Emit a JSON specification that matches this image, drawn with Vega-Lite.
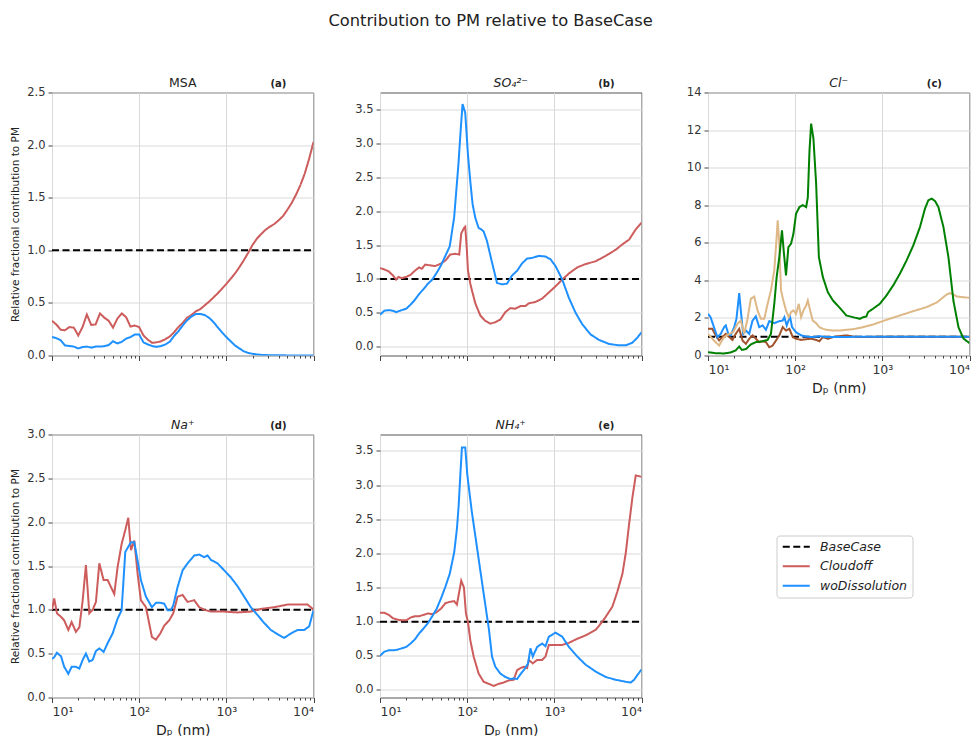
{
"$schema":"https://vega.github.io/schema/vega-lite/v6.json",
"background":"white",
"padding":{"left":10,"top":12.5,"right":5,"bottom":5},
"title":{"text":"Contribution to PM relative to BaseCase","fontSize":16.3,"anchor":"middle","offset":47,"color":"#222","fontWeight":"normal"},
"config":{
 "font":"DejaVu Sans",
 "view":{"stroke":"#555","strokeWidth":1},
 "axis":{"labelFontSize":11.5,"labelColor":"#333","tickColor":"#444","tickSize":4,"domain":false,"gridColor":"#d9d9d9","titleFontWeight":"normal","titleColor":"#222","labelPadding":3,"labelOverlap":false},
 "axisY":{"titleFontSize":10.5,"titlePadding":6},
 "axisX":{"titleFontSize":14,"titlePadding":5},
 "title":{"fontSize":12.5,"fontWeight":"normal","color":"#222"},
 "legend":{"symbolType":"M-1,0H4.4","symbolSize":100,"symbolStrokeWidth":2,"labelFontStyle":"italic","labelFontSize":12.5,"labelColor":"#222","labelOffset":26,"rowPadding":6.5,"padding":5,"strokeColor":"#cccccc","cornerRadius":3,"fillColor":"white"}
},
"data":{"values":[
{"p":"a","s":"BaseCase","x":10,"y":1},{"p":"a","s":"BaseCase","x":10000,"y":1},
{"p":"b","s":"BaseCase","x":10,"y":1},{"p":"b","s":"BaseCase","x":10000,"y":1},
{"p":"c","s":"BaseCase","x":10,"y":1},{"p":"c","s":"BaseCase","x":10000,"y":1},
{"p":"d","s":"BaseCase","x":10,"y":1},{"p":"d","s":"BaseCase","x":10000,"y":1},
{"p":"e","s":"BaseCase","x":10,"y":1},{"p":"e","s":"BaseCase","x":10000,"y":1},
{"p":"a","s":"Cloudoff","x":10,"y":0.33},{"p":"a","s":"Cloudoff","x":11.2,"y":0.295},{"p":"a","s":"Cloudoff","x":12.6,"y":0.245},{"p":"a","s":"Cloudoff","x":14.1,"y":0.24},{"p":"a","s":"Cloudoff","x":15.8,"y":0.27},{"p":"a","s":"Cloudoff","x":17.8,"y":0.265},{"p":"a","s":"Cloudoff","x":20,"y":0.19},{"p":"a","s":"Cloudoff","x":22.4,"y":0.27},{"p":"a","s":"Cloudoff","x":25.1,"y":0.39},{"p":"a","s":"Cloudoff","x":28.2,"y":0.29},{"p":"a","s":"Cloudoff","x":31.6,"y":0.295},{"p":"a","s":"Cloudoff","x":35.5,"y":0.4},{"p":"a","s":"Cloudoff","x":39.8,"y":0.36},{"p":"a","s":"Cloudoff","x":44.7,"y":0.33},{"p":"a","s":"Cloudoff","x":50.1,"y":0.265},{"p":"a","s":"Cloudoff","x":56.2,"y":0.35},{"p":"a","s":"Cloudoff","x":63.1,"y":0.4},{"p":"a","s":"Cloudoff","x":70.8,"y":0.365},{"p":"a","s":"Cloudoff","x":79.4,"y":0.275},{"p":"a","s":"Cloudoff","x":89.1,"y":0.285},{"p":"a","s":"Cloudoff","x":100,"y":0.27},{"p":"a","s":"Cloudoff","x":112,"y":0.19},{"p":"a","s":"Cloudoff","x":126,"y":0.15},{"p":"a","s":"Cloudoff","x":141,"y":0.12},{"p":"a","s":"Cloudoff","x":158,"y":0.125},{"p":"a","s":"Cloudoff","x":178,"y":0.135},{"p":"a","s":"Cloudoff","x":200,"y":0.155},{"p":"a","s":"Cloudoff","x":224,"y":0.18},{"p":"a","s":"Cloudoff","x":251,"y":0.22},{"p":"a","s":"Cloudoff","x":282,"y":0.27},{"p":"a","s":"Cloudoff","x":316,"y":0.31},{"p":"a","s":"Cloudoff","x":355,"y":0.36},{"p":"a","s":"Cloudoff","x":398,"y":0.385},{"p":"a","s":"Cloudoff","x":447,"y":0.42},{"p":"a","s":"Cloudoff","x":501,"y":0.44},{"p":"a","s":"Cloudoff","x":562,"y":0.475},{"p":"a","s":"Cloudoff","x":631,"y":0.51},{"p":"a","s":"Cloudoff","x":708,"y":0.55},{"p":"a","s":"Cloudoff","x":794,"y":0.59},{"p":"a","s":"Cloudoff","x":891,"y":0.635},{"p":"a","s":"Cloudoff","x":1000,"y":0.68},{"p":"a","s":"Cloudoff","x":1122,"y":0.73},{"p":"a","s":"Cloudoff","x":1259,"y":0.78},{"p":"a","s":"Cloudoff","x":1413,"y":0.84},{"p":"a","s":"Cloudoff","x":1585,"y":0.905},{"p":"a","s":"Cloudoff","x":1778,"y":0.975},{"p":"a","s":"Cloudoff","x":1995,"y":1.05},{"p":"a","s":"Cloudoff","x":2239,"y":1.11},{"p":"a","s":"Cloudoff","x":2512,"y":1.155},{"p":"a","s":"Cloudoff","x":2818,"y":1.195},{"p":"a","s":"Cloudoff","x":3162,"y":1.225},{"p":"a","s":"Cloudoff","x":3548,"y":1.25},{"p":"a","s":"Cloudoff","x":3981,"y":1.285},{"p":"a","s":"Cloudoff","x":4467,"y":1.325},{"p":"a","s":"Cloudoff","x":5012,"y":1.385},{"p":"a","s":"Cloudoff","x":5623,"y":1.45},{"p":"a","s":"Cloudoff","x":6310,"y":1.53},{"p":"a","s":"Cloudoff","x":7079,"y":1.62},{"p":"a","s":"Cloudoff","x":7943,"y":1.73},{"p":"a","s":"Cloudoff","x":8913,"y":1.87},{"p":"a","s":"Cloudoff","x":10000,"y":2.03},
{"p":"a","s":"woDissolution","x":10,"y":0.175},{"p":"a","s":"woDissolution","x":11.2,"y":0.165},{"p":"a","s":"woDissolution","x":12.6,"y":0.145},{"p":"a","s":"woDissolution","x":14.1,"y":0.095},{"p":"a","s":"woDissolution","x":15.8,"y":0.09},{"p":"a","s":"woDissolution","x":17.8,"y":0.085},{"p":"a","s":"woDissolution","x":20,"y":0.067},{"p":"a","s":"woDissolution","x":22.4,"y":0.08},{"p":"a","s":"woDissolution","x":25.1,"y":0.085},{"p":"a","s":"woDissolution","x":28.2,"y":0.075},{"p":"a","s":"woDissolution","x":31.6,"y":0.085},{"p":"a","s":"woDissolution","x":35.5,"y":0.085},{"p":"a","s":"woDissolution","x":39.8,"y":0.088},{"p":"a","s":"woDissolution","x":44.7,"y":0.1},{"p":"a","s":"woDissolution","x":50.1,"y":0.135},{"p":"a","s":"woDissolution","x":56.2,"y":0.115},{"p":"a","s":"woDissolution","x":63.1,"y":0.13},{"p":"a","s":"woDissolution","x":70.8,"y":0.16},{"p":"a","s":"woDissolution","x":79.4,"y":0.175},{"p":"a","s":"woDissolution","x":89.1,"y":0.2},{"p":"a","s":"woDissolution","x":100,"y":0.2},{"p":"a","s":"woDissolution","x":112,"y":0.125},{"p":"a","s":"woDissolution","x":126,"y":0.105},{"p":"a","s":"woDissolution","x":141,"y":0.09},{"p":"a","s":"woDissolution","x":158,"y":0.082},{"p":"a","s":"woDissolution","x":178,"y":0.09},{"p":"a","s":"woDissolution","x":200,"y":0.105},{"p":"a","s":"woDissolution","x":224,"y":0.13},{"p":"a","s":"woDissolution","x":251,"y":0.185},{"p":"a","s":"woDissolution","x":282,"y":0.23},{"p":"a","s":"woDissolution","x":316,"y":0.285},{"p":"a","s":"woDissolution","x":355,"y":0.335},{"p":"a","s":"woDissolution","x":398,"y":0.37},{"p":"a","s":"woDissolution","x":447,"y":0.395},{"p":"a","s":"woDissolution","x":501,"y":0.395},{"p":"a","s":"woDissolution","x":562,"y":0.385},{"p":"a","s":"woDissolution","x":631,"y":0.36},{"p":"a","s":"woDissolution","x":708,"y":0.32},{"p":"a","s":"woDissolution","x":794,"y":0.27},{"p":"a","s":"woDissolution","x":891,"y":0.22},{"p":"a","s":"woDissolution","x":1000,"y":0.175},{"p":"a","s":"woDissolution","x":1122,"y":0.135},{"p":"a","s":"woDissolution","x":1259,"y":0.095},{"p":"a","s":"woDissolution","x":1413,"y":0.067},{"p":"a","s":"woDissolution","x":1585,"y":0.04},{"p":"a","s":"woDissolution","x":1778,"y":0.025},{"p":"a","s":"woDissolution","x":1995,"y":0.016},{"p":"a","s":"woDissolution","x":2239,"y":0.01},{"p":"a","s":"woDissolution","x":2512,"y":0.006},{"p":"a","s":"woDissolution","x":3162,"y":0.003},{"p":"a","s":"woDissolution","x":5012,"y":0.001},{"p":"a","s":"woDissolution","x":10000,"y":0},
{"p":"b","s":"Cloudoff","x":10,"y":1.16},{"p":"b","s":"Cloudoff","x":11.2,"y":1.14},{"p":"b","s":"Cloudoff","x":12.6,"y":1.11},{"p":"b","s":"Cloudoff","x":14.1,"y":1.05},{"p":"b","s":"Cloudoff","x":15.3,"y":0.99},{"p":"b","s":"Cloudoff","x":16.3,"y":1.03},{"p":"b","s":"Cloudoff","x":17.8,"y":1.01},{"p":"b","s":"Cloudoff","x":20,"y":1.03},{"p":"b","s":"Cloudoff","x":22.4,"y":1.06},{"p":"b","s":"Cloudoff","x":25.1,"y":1.12},{"p":"b","s":"Cloudoff","x":28.1,"y":1.17},{"p":"b","s":"Cloudoff","x":30.2,"y":1.15},{"p":"b","s":"Cloudoff","x":33,"y":1.21},{"p":"b","s":"Cloudoff","x":37.6,"y":1.2},{"p":"b","s":"Cloudoff","x":43,"y":1.19},{"p":"b","s":"Cloudoff","x":49,"y":1.22},{"p":"b","s":"Cloudoff","x":56.2,"y":1.27},{"p":"b","s":"Cloudoff","x":64,"y":1.36},{"p":"b","s":"Cloudoff","x":73,"y":1.37},{"p":"b","s":"Cloudoff","x":81.1,"y":1.36},{"p":"b","s":"Cloudoff","x":85.5,"y":1.67},{"p":"b","s":"Cloudoff","x":91.8,"y":1.75},{"p":"b","s":"Cloudoff","x":95,"y":1.77},{"p":"b","s":"Cloudoff","x":99,"y":1.45},{"p":"b","s":"Cloudoff","x":102,"y":1.13},{"p":"b","s":"Cloudoff","x":108.6,"y":0.93},{"p":"b","s":"Cloudoff","x":113.5,"y":0.83},{"p":"b","s":"Cloudoff","x":124,"y":0.64},{"p":"b","s":"Cloudoff","x":141.5,"y":0.46},{"p":"b","s":"Cloudoff","x":161.5,"y":0.38},{"p":"b","s":"Cloudoff","x":184.5,"y":0.34},{"p":"b","s":"Cloudoff","x":210,"y":0.36},{"p":"b","s":"Cloudoff","x":240,"y":0.4},{"p":"b","s":"Cloudoff","x":274,"y":0.51},{"p":"b","s":"Cloudoff","x":313,"y":0.57},{"p":"b","s":"Cloudoff","x":357,"y":0.56},{"p":"b","s":"Cloudoff","x":408,"y":0.6},{"p":"b","s":"Cloudoff","x":466,"y":0.6},{"p":"b","s":"Cloudoff","x":509,"y":0.64},{"p":"b","s":"Cloudoff","x":608,"y":0.66},{"p":"b","s":"Cloudoff","x":725,"y":0.71},{"p":"b","s":"Cloudoff","x":865,"y":0.8},{"p":"b","s":"Cloudoff","x":1032,"y":0.89},{"p":"b","s":"Cloudoff","x":1233,"y":0.99},{"p":"b","s":"Cloudoff","x":1469,"y":1.08},{"p":"b","s":"Cloudoff","x":1833,"y":1.17},{"p":"b","s":"Cloudoff","x":2286,"y":1.22},{"p":"b","s":"Cloudoff","x":2979,"y":1.26},{"p":"b","s":"Cloudoff","x":3881,"y":1.34},{"p":"b","s":"Cloudoff","x":5058,"y":1.43},{"p":"b","s":"Cloudoff","x":6040,"y":1.51},{"p":"b","s":"Cloudoff","x":7211,"y":1.58},{"p":"b","s":"Cloudoff","x":8590,"y":1.73},{"p":"b","s":"Cloudoff","x":10000,"y":1.83},
{"p":"b","s":"woDissolution","x":10,"y":0.47},{"p":"b","s":"woDissolution","x":11.2,"y":0.53},{"p":"b","s":"woDissolution","x":12.6,"y":0.54},{"p":"b","s":"woDissolution","x":14.1,"y":0.53},{"p":"b","s":"woDissolution","x":15.3,"y":0.51},{"p":"b","s":"woDissolution","x":17.8,"y":0.54},{"p":"b","s":"woDissolution","x":20,"y":0.56},{"p":"b","s":"woDissolution","x":22.4,"y":0.62},{"p":"b","s":"woDissolution","x":25.1,"y":0.69},{"p":"b","s":"woDissolution","x":28.2,"y":0.78},{"p":"b","s":"woDissolution","x":31.6,"y":0.85},{"p":"b","s":"woDissolution","x":35.5,"y":0.93},{"p":"b","s":"woDissolution","x":39.8,"y":0.99},{"p":"b","s":"woDissolution","x":44.7,"y":1.09},{"p":"b","s":"woDissolution","x":50.1,"y":1.2},{"p":"b","s":"woDissolution","x":56.2,"y":1.34},{"p":"b","s":"woDissolution","x":63.1,"y":1.48},{"p":"b","s":"woDissolution","x":70.8,"y":1.9},{"p":"b","s":"woDissolution","x":79.4,"y":2.69},{"p":"b","s":"woDissolution","x":84.1,"y":3.18},{"p":"b","s":"woDissolution","x":88.5,"y":3.58},{"p":"b","s":"woDissolution","x":95,"y":3.45},{"p":"b","s":"woDissolution","x":102,"y":2.84},{"p":"b","s":"woDissolution","x":108.6,"y":2.44},{"p":"b","s":"woDissolution","x":115.5,"y":2.1},{"p":"b","s":"woDissolution","x":124,"y":1.9},{"p":"b","s":"woDissolution","x":135.5,"y":1.75},{"p":"b","s":"woDissolution","x":145,"y":1.73},{"p":"b","s":"woDissolution","x":154.5,"y":1.7},{"p":"b","s":"woDissolution","x":168.7,"y":1.56},{"p":"b","s":"woDissolution","x":193,"y":1.24},{"p":"b","s":"woDissolution","x":220,"y":0.94},{"p":"b","s":"woDissolution","x":251,"y":0.92},{"p":"b","s":"woDissolution","x":287,"y":0.93},{"p":"b","s":"woDissolution","x":327,"y":1.05},{"p":"b","s":"woDissolution","x":374,"y":1.12},{"p":"b","s":"woDissolution","x":427,"y":1.23},{"p":"b","s":"woDissolution","x":487,"y":1.3},{"p":"b","s":"woDissolution","x":556,"y":1.31},{"p":"b","s":"woDissolution","x":664,"y":1.34},{"p":"b","s":"woDissolution","x":794,"y":1.33},{"p":"b","s":"woDissolution","x":903,"y":1.29},{"p":"b","s":"woDissolution","x":1032,"y":1.19},{"p":"b","s":"woDissolution","x":1233,"y":0.99},{"p":"b","s":"woDissolution","x":1469,"y":0.72},{"p":"b","s":"woDissolution","x":1753,"y":0.5},{"p":"b","s":"woDissolution","x":2093,"y":0.33},{"p":"b","s":"woDissolution","x":2612,"y":0.18},{"p":"b","s":"woDissolution","x":3252,"y":0.1},{"p":"b","s":"woDissolution","x":4244,"y":0.04},{"p":"b","s":"woDissolution","x":5533,"y":0.02},{"p":"b","s":"woDissolution","x":6592,"y":0.02},{"p":"b","s":"woDissolution","x":7870,"y":0.06},{"p":"b","s":"woDissolution","x":8913,"y":0.13},{"p":"b","s":"woDissolution","x":10000,"y":0.21},
{"p":"c","s":"ClBrown","x":10,"y":1.42},{"p":"c","s":"ClBrown","x":11.2,"y":1.42},{"p":"c","s":"ClBrown","x":12.25,"y":1.07},{"p":"c","s":"ClBrown","x":13.4,"y":0.8},{"p":"c","s":"ClBrown","x":14.6,"y":0.98},{"p":"c","s":"ClBrown","x":16,"y":1.15},{"p":"c","s":"ClBrown","x":17.5,"y":0.98},{"p":"c","s":"ClBrown","x":19.1,"y":0.83},{"p":"c","s":"ClBrown","x":20.8,"y":1.15},{"p":"c","s":"ClBrown","x":22.8,"y":1.42},{"p":"c","s":"ClBrown","x":24.9,"y":0.8},{"p":"c","s":"ClBrown","x":27.2,"y":0.62},{"p":"c","s":"ClBrown","x":29.7,"y":0.89},{"p":"c","s":"ClBrown","x":32.4,"y":1.07},{"p":"c","s":"ClBrown","x":35.4,"y":0.89},{"p":"c","s":"ClBrown","x":38.7,"y":0.71},{"p":"c","s":"ClBrown","x":42.3,"y":0.76},{"p":"c","s":"ClBrown","x":46.2,"y":0.71},{"p":"c","s":"ClBrown","x":50.5,"y":0.44},{"p":"c","s":"ClBrown","x":55.1,"y":0.53},{"p":"c","s":"ClBrown","x":60.3,"y":0.8},{"p":"c","s":"ClBrown","x":65.8,"y":1.07},{"p":"c","s":"ClBrown","x":71.9,"y":1.51},{"p":"c","s":"ClBrown","x":78.5,"y":1.33},{"p":"c","s":"ClBrown","x":85.8,"y":1.42},{"p":"c","s":"ClBrown","x":93.8,"y":0.98},{"p":"c","s":"ClBrown","x":102.4,"y":0.89},{"p":"c","s":"ClBrown","x":117,"y":0.83},{"p":"c","s":"ClBrown","x":133.6,"y":0.87},{"p":"c","s":"ClBrown","x":152.5,"y":0.89},{"p":"c","s":"ClBrown","x":174,"y":0.83},{"p":"c","s":"ClBrown","x":190,"y":0.76},{"p":"c","s":"ClBrown","x":208,"y":0.98},{"p":"c","s":"ClBrown","x":237,"y":0.89},{"p":"c","s":"ClBrown","x":271,"y":0.98},{"p":"c","s":"ClBrown","x":324,"y":1.03},{"p":"c","s":"ClBrown","x":386,"y":1.07},{"p":"c","s":"ClBrown","x":461,"y":1.01},{"p":"c","s":"ClBrown","x":550,"y":0.98},{"p":"c","s":"ClBrown","x":1000,"y":1},{"p":"c","s":"ClBrown","x":10000,"y":1},
{"p":"c","s":"woDissolution","x":10,"y":2.22},{"p":"c","s":"woDissolution","x":10.7,"y":2.04},{"p":"c","s":"woDissolution","x":11.7,"y":1.51},{"p":"c","s":"woDissolution","x":12.8,"y":0.98},{"p":"c","s":"woDissolution","x":14,"y":1.15},{"p":"c","s":"woDissolution","x":15.3,"y":1.51},{"p":"c","s":"woDissolution","x":16,"y":1.6},{"p":"c","s":"woDissolution","x":17.1,"y":1.15},{"p":"c","s":"woDissolution","x":18.2,"y":1.07},{"p":"c","s":"woDissolution","x":20,"y":1.51},{"p":"c","s":"woDissolution","x":21.2,"y":1.95},{"p":"c","s":"woDissolution","x":22.8,"y":3.32},{"p":"c","s":"woDissolution","x":23.8,"y":2.4},{"p":"c","s":"woDissolution","x":25.3,"y":1.15},{"p":"c","s":"woDissolution","x":27.2,"y":1.33},{"p":"c","s":"woDissolution","x":29.7,"y":1.15},{"p":"c","s":"woDissolution","x":32.4,"y":1.86},{"p":"c","s":"woDissolution","x":35.4,"y":2.08},{"p":"c","s":"woDissolution","x":38.7,"y":1.51},{"p":"c","s":"woDissolution","x":42.3,"y":1.6},{"p":"c","s":"woDissolution","x":46.2,"y":1.37},{"p":"c","s":"woDissolution","x":50.5,"y":1.83},{"p":"c","s":"woDissolution","x":57.6,"y":1.72},{"p":"c","s":"woDissolution","x":65.8,"y":1.83},{"p":"c","s":"woDissolution","x":71.9,"y":1.86},{"p":"c","s":"woDissolution","x":75.2,"y":2.04},{"p":"c","s":"woDissolution","x":80,"y":1.6},{"p":"c","s":"woDissolution","x":87.3,"y":2.08},{"p":"c","s":"woDissolution","x":92,"y":1.51},{"p":"c","s":"woDissolution","x":102.4,"y":1.24},{"p":"c","s":"woDissolution","x":117,"y":1.07},{"p":"c","s":"woDissolution","x":133.6,"y":1.01},{"p":"c","s":"woDissolution","x":159,"y":0.98},{"p":"c","s":"woDissolution","x":190,"y":1.03},{"p":"c","s":"woDissolution","x":227,"y":0.98},{"p":"c","s":"woDissolution","x":324,"y":0.98},{"p":"c","s":"woDissolution","x":550,"y":1},{"p":"c","s":"woDissolution","x":10000,"y":1},
{"p":"c","s":"ClTan","x":10,"y":1.15},{"p":"c","s":"ClTan","x":11.7,"y":0.8},{"p":"c","s":"ClTan","x":13.4,"y":0.53},{"p":"c","s":"ClTan","x":15.3,"y":0.98},{"p":"c","s":"ClTan","x":17.5,"y":1.15},{"p":"c","s":"ClTan","x":19.4,"y":1.24},{"p":"c","s":"ClTan","x":21.8,"y":1.69},{"p":"c","s":"ClTan","x":23.8,"y":1.86},{"p":"c","s":"ClTan","x":26,"y":1.15},{"p":"c","s":"ClTan","x":28.4,"y":1.95},{"p":"c","s":"ClTan","x":31,"y":3.02},{"p":"c","s":"ClTan","x":33.9,"y":3.14},{"p":"c","s":"ClTan","x":37,"y":2.4},{"p":"c","s":"ClTan","x":40.5,"y":1.95},{"p":"c","s":"ClTan","x":44.2,"y":1.95},{"p":"c","s":"ClTan","x":48.3,"y":2.75},{"p":"c","s":"ClTan","x":52.7,"y":3.46},{"p":"c","s":"ClTan","x":57.6,"y":4.53},{"p":"c","s":"ClTan","x":61.3,"y":6.3},{"p":"c","s":"ClTan","x":63,"y":7.19},{"p":"c","s":"ClTan","x":65.8,"y":5.95},{"p":"c","s":"ClTan","x":68.8,"y":3.46},{"p":"c","s":"ClTan","x":73.2,"y":2.93},{"p":"c","s":"ClTan","x":78.5,"y":2.4},{"p":"c","s":"ClTan","x":84.3,"y":2.04},{"p":"c","s":"ClTan","x":89.7,"y":2.31},{"p":"c","s":"ClTan","x":95.5,"y":2.4},{"p":"c","s":"ClTan","x":102.4,"y":2.22},{"p":"c","s":"ClTan","x":110,"y":2.75},{"p":"c","s":"ClTan","x":117,"y":2.04},{"p":"c","s":"ClTan","x":124.5,"y":2.4},{"p":"c","s":"ClTan","x":133.6,"y":2.66},{"p":"c","s":"ClTan","x":139.6,"y":2.93},{"p":"c","s":"ClTan","x":148.5,"y":2.4},{"p":"c","s":"ClTan","x":159,"y":1.86},{"p":"c","s":"ClTan","x":174,"y":1.72},{"p":"c","s":"ClTan","x":190,"y":1.51},{"p":"c","s":"ClTan","x":208,"y":1.42},{"p":"c","s":"ClTan","x":227,"y":1.37},{"p":"c","s":"ClTan","x":271,"y":1.33},{"p":"c","s":"ClTan","x":324,"y":1.33},{"p":"c","s":"ClTan","x":386,"y":1.37},{"p":"c","s":"ClTan","x":461,"y":1.4},{"p":"c","s":"ClTan","x":550,"y":1.47},{"p":"c","s":"ClTan","x":783,"y":1.65},{"p":"c","s":"ClTan","x":1117,"y":1.9},{"p":"c","s":"ClTan","x":1589,"y":2.13},{"p":"c","s":"ClTan","x":2265,"y":2.36},{"p":"c","s":"ClTan","x":3228,"y":2.58},{"p":"c","s":"ClTan","x":4207,"y":2.82},{"p":"c","s":"ClTan","x":5023,"y":3.11},{"p":"c","s":"ClTan","x":5483,"y":3.25},{"p":"c","s":"ClTan","x":5998,"y":3.32},{"p":"c","s":"ClTan","x":6546,"y":3.25},{"p":"c","s":"ClTan","x":7149,"y":3.14},{"p":"c","s":"ClTan","x":8166,"y":3.11},{"p":"c","s":"ClTan","x":10000,"y":3.07},
{"p":"c","s":"ClGreen","x":10,"y":0.18},{"p":"c","s":"ClGreen","x":12.25,"y":0.12},{"p":"c","s":"ClGreen","x":15.3,"y":0.11},{"p":"c","s":"ClGreen","x":18.2,"y":0.16},{"p":"c","s":"ClGreen","x":20.8,"y":0.27},{"p":"c","s":"ClGreen","x":22.8,"y":0.48},{"p":"c","s":"ClGreen","x":24.4,"y":0.3},{"p":"c","s":"ClGreen","x":27.2,"y":0.34},{"p":"c","s":"ClGreen","x":31,"y":0.59},{"p":"c","s":"ClGreen","x":35.4,"y":0.71},{"p":"c","s":"ClGreen","x":42.3,"y":0.76},{"p":"c","s":"ClGreen","x":48.3,"y":0.83},{"p":"c","s":"ClGreen","x":52.7,"y":1.15},{"p":"c","s":"ClGreen","x":57.6,"y":2.75},{"p":"c","s":"ClGreen","x":61.3,"y":4.17},{"p":"c","s":"ClGreen","x":65.8,"y":5.24},{"p":"c","s":"ClGreen","x":70.6,"y":6.66},{"p":"c","s":"ClGreen","x":73.8,"y":5.6},{"p":"c","s":"ClGreen","x":78.5,"y":4.26},{"p":"c","s":"ClGreen","x":83.6,"y":5.77},{"p":"c","s":"ClGreen","x":89.7,"y":5.95},{"p":"c","s":"ClGreen","x":95.5,"y":6.48},{"p":"c","s":"ClGreen","x":102.4,"y":7.55},{"p":"c","s":"ClGreen","x":112,"y":7.9},{"p":"c","s":"ClGreen","x":122,"y":8.0},{"p":"c","s":"ClGreen","x":133.6,"y":7.9},{"p":"c","s":"ClGreen","x":139.6,"y":8.4},{"p":"c","s":"ClGreen","x":146,"y":10.9},{"p":"c","s":"ClGreen","x":152.5,"y":12.34},{"p":"c","s":"ClGreen","x":162,"y":11.55},{"p":"c","s":"ClGreen","x":174,"y":9.15},{"p":"c","s":"ClGreen","x":187,"y":5.24},{"p":"c","s":"ClGreen","x":208,"y":4.17},{"p":"c","s":"ClGreen","x":237,"y":3.37},{"p":"c","s":"ClGreen","x":271,"y":2.93},{"p":"c","s":"ClGreen","x":324,"y":2.54},{"p":"c","s":"ClGreen","x":386,"y":2.13},{"p":"c","s":"ClGreen","x":461,"y":2.04},{"p":"c","s":"ClGreen","x":550,"y":1.95},{"p":"c","s":"ClGreen","x":601,"y":2.04},{"p":"c","s":"ClGreen","x":656,"y":2.08},{"p":"c","s":"ClGreen","x":686,"y":2.31},{"p":"c","s":"ClGreen","x":783,"y":2.49},{"p":"c","s":"ClGreen","x":935,"y":2.75},{"p":"c","s":"ClGreen","x":1117,"y":3.2},{"p":"c","s":"ClGreen","x":1332,"y":3.73},{"p":"c","s":"ClGreen","x":1589,"y":4.35},{"p":"c","s":"ClGreen","x":1897,"y":5.06},{"p":"c","s":"ClGreen","x":2265,"y":5.86},{"p":"c","s":"ClGreen","x":2704,"y":6.84},{"p":"c","s":"ClGreen","x":3085,"y":7.82},{"p":"c","s":"ClGreen","x":3371,"y":8.26},{"p":"c","s":"ClGreen","x":3687,"y":8.35},{"p":"c","s":"ClGreen","x":4027,"y":8.22},{"p":"c","s":"ClGreen","x":4397,"y":7.9},{"p":"c","s":"ClGreen","x":5023,"y":6.84},{"p":"c","s":"ClGreen","x":5730,"y":5.24},{"p":"c","s":"ClGreen","x":6546,"y":2.9},{"p":"c","s":"ClGreen","x":7479,"y":1.5},{"p":"c","s":"ClGreen","x":8531,"y":0.9},{"p":"c","s":"ClGreen","x":10000,"y":0.66},
{"p":"d","s":"Cloudoff","x":10,"y":1.0},{"p":"d","s":"Cloudoff","x":10.6,"y":1.13},{"p":"d","s":"Cloudoff","x":11.4,"y":0.96},{"p":"d","s":"Cloudoff","x":12.7,"y":0.92},{"p":"d","s":"Cloudoff","x":13.8,"y":0.88},{"p":"d","s":"Cloudoff","x":15.4,"y":0.77},{"p":"d","s":"Cloudoff","x":16.8,"y":0.86},{"p":"d","s":"Cloudoff","x":18.8,"y":0.75},{"p":"d","s":"Cloudoff","x":20.6,"y":0.8},{"p":"d","s":"Cloudoff","x":22.5,"y":1.11},{"p":"d","s":"Cloudoff","x":24.5,"y":1.51},{"p":"d","s":"Cloudoff","x":26.8,"y":0.96},{"p":"d","s":"Cloudoff","x":29.3,"y":1.0},{"p":"d","s":"Cloudoff","x":31.9,"y":1.09},{"p":"d","s":"Cloudoff","x":34.9,"y":1.53},{"p":"d","s":"Cloudoff","x":39.1,"y":1.34},{"p":"d","s":"Cloudoff","x":43.5,"y":1.34},{"p":"d","s":"Cloudoff","x":49.6,"y":1.22},{"p":"d","s":"Cloudoff","x":51.8,"y":1.18},{"p":"d","s":"Cloudoff","x":56.6,"y":1.49},{"p":"d","s":"Cloudoff","x":62.9,"y":1.75},{"p":"d","s":"Cloudoff","x":69.3,"y":1.91},{"p":"d","s":"Cloudoff","x":75,"y":2.05},{"p":"d","s":"Cloudoff","x":80.5,"y":1.68},{"p":"d","s":"Cloudoff","x":87.9,"y":1.79},{"p":"d","s":"Cloudoff","x":96,"y":1.41},{"p":"d","s":"Cloudoff","x":104.7,"y":1.11},{"p":"d","s":"Cloudoff","x":119.6,"y":1.03},{"p":"d","s":"Cloudoff","x":140,"y":0.69},{"p":"d","s":"Cloudoff","x":155.6,"y":0.66},{"p":"d","s":"Cloudoff","x":174.5,"y":0.73},{"p":"d","s":"Cloudoff","x":194,"y":0.82},{"p":"d","s":"Cloudoff","x":221,"y":0.88},{"p":"d","s":"Cloudoff","x":246,"y":0.96},{"p":"d","s":"Cloudoff","x":276,"y":1.15},{"p":"d","s":"Cloudoff","x":315,"y":1.17},{"p":"d","s":"Cloudoff","x":359,"y":1.09},{"p":"d","s":"Cloudoff","x":428,"y":1.11},{"p":"d","s":"Cloudoff","x":489,"y":1.03},{"p":"d","s":"Cloudoff","x":557,"y":1.0},{"p":"d","s":"Cloudoff","x":665,"y":0.98},{"p":"d","s":"Cloudoff","x":946,"y":0.98},{"p":"d","s":"Cloudoff","x":1343,"y":0.97},{"p":"d","s":"Cloudoff","x":1910,"y":0.98},{"p":"d","s":"Cloudoff","x":2488,"y":1.01},{"p":"d","s":"Cloudoff","x":3540,"y":1.03},{"p":"d","s":"Cloudoff","x":5035,"y":1.06},{"p":"d","s":"Cloudoff","x":7145,"y":1.06},{"p":"d","s":"Cloudoff","x":8530,"y":1.06},{"p":"d","s":"Cloudoff","x":9310,"y":1.03},{"p":"d","s":"Cloudoff","x":10000,"y":1.0},
{"p":"d","s":"woDissolution","x":10,"y":0.44},{"p":"d","s":"woDissolution","x":10.6,"y":0.46},{"p":"d","s":"woDissolution","x":11.4,"y":0.51},{"p":"d","s":"woDissolution","x":12.7,"y":0.47},{"p":"d","s":"woDissolution","x":13.8,"y":0.35},{"p":"d","s":"woDissolution","x":15.4,"y":0.27},{"p":"d","s":"woDissolution","x":16.8,"y":0.35},{"p":"d","s":"woDissolution","x":18.8,"y":0.35},{"p":"d","s":"woDissolution","x":20.6,"y":0.33},{"p":"d","s":"woDissolution","x":22.5,"y":0.43},{"p":"d","s":"woDissolution","x":24.5,"y":0.5},{"p":"d","s":"woDissolution","x":26.8,"y":0.41},{"p":"d","s":"woDissolution","x":29.3,"y":0.43},{"p":"d","s":"woDissolution","x":31.9,"y":0.53},{"p":"d","s":"woDissolution","x":34.9,"y":0.56},{"p":"d","s":"woDissolution","x":39.1,"y":0.52},{"p":"d","s":"woDissolution","x":43.5,"y":0.62},{"p":"d","s":"woDissolution","x":49.6,"y":0.73},{"p":"d","s":"woDissolution","x":56.6,"y":0.9},{"p":"d","s":"woDissolution","x":62.9,"y":0.995},{"p":"d","s":"woDissolution","x":69.3,"y":1.66},{"p":"d","s":"woDissolution","x":75,"y":1.72},{"p":"d","s":"woDissolution","x":80.5,"y":1.77},{"p":"d","s":"woDissolution","x":87.9,"y":1.77},{"p":"d","s":"woDissolution","x":96,"y":1.56},{"p":"d","s":"woDissolution","x":104.7,"y":1.34},{"p":"d","s":"woDissolution","x":119.6,"y":1.15},{"p":"d","s":"woDissolution","x":140,"y":1.03},{"p":"d","s":"woDissolution","x":155.6,"y":1.08},{"p":"d","s":"woDissolution","x":174.5,"y":1.08},{"p":"d","s":"woDissolution","x":194,"y":1.07},{"p":"d","s":"woDissolution","x":211.8,"y":0.995},{"p":"d","s":"woDissolution","x":231,"y":0.995},{"p":"d","s":"woDissolution","x":246,"y":1.05},{"p":"d","s":"woDissolution","x":276,"y":1.26},{"p":"d","s":"woDissolution","x":315,"y":1.45},{"p":"d","s":"woDissolution","x":359,"y":1.53},{"p":"d","s":"woDissolution","x":428,"y":1.62},{"p":"d","s":"woDissolution","x":489,"y":1.63},{"p":"d","s":"woDissolution","x":557,"y":1.6},{"p":"d","s":"woDissolution","x":609,"y":1.62},{"p":"d","s":"woDissolution","x":665,"y":1.57},{"p":"d","s":"woDissolution","x":793,"y":1.53},{"p":"d","s":"woDissolution","x":946,"y":1.45},{"p":"d","s":"woDissolution","x":1127,"y":1.37},{"p":"d","s":"woDissolution","x":1343,"y":1.27},{"p":"d","s":"woDissolution","x":1603,"y":1.15},{"p":"d","s":"woDissolution","x":1910,"y":1.03},{"p":"d","s":"woDissolution","x":2281,"y":0.94},{"p":"d","s":"woDissolution","x":2718,"y":0.85},{"p":"d","s":"woDissolution","x":3242,"y":0.77},{"p":"d","s":"woDissolution","x":4039,"y":0.71},{"p":"d","s":"woDissolution","x":4607,"y":0.68},{"p":"d","s":"woDissolution","x":5495,"y":0.73},{"p":"d","s":"woDissolution","x":6548,"y":0.77},{"p":"d","s":"woDissolution","x":7810,"y":0.77},{"p":"d","s":"woDissolution","x":8913,"y":0.81},{"p":"d","s":"woDissolution","x":10000,"y":0.995},
{"p":"e","s":"Cloudoff","x":10,"y":1.13},{"p":"e","s":"Cloudoff","x":11.2,"y":1.13},{"p":"e","s":"Cloudoff","x":12.6,"y":1.1},{"p":"e","s":"Cloudoff","x":14.1,"y":1.05},{"p":"e","s":"Cloudoff","x":15.8,"y":1.03},{"p":"e","s":"Cloudoff","x":17.8,"y":1.02},{"p":"e","s":"Cloudoff","x":20,"y":1.02},{"p":"e","s":"Cloudoff","x":22.4,"y":1.06},{"p":"e","s":"Cloudoff","x":25.1,"y":1.08},{"p":"e","s":"Cloudoff","x":28.2,"y":1.08},{"p":"e","s":"Cloudoff","x":31.6,"y":1.1},{"p":"e","s":"Cloudoff","x":35.5,"y":1.12},{"p":"e","s":"Cloudoff","x":39.8,"y":1.11},{"p":"e","s":"Cloudoff","x":44.7,"y":1.14},{"p":"e","s":"Cloudoff","x":50.1,"y":1.19},{"p":"e","s":"Cloudoff","x":56.2,"y":1.27},{"p":"e","s":"Cloudoff","x":63.1,"y":1.29},{"p":"e","s":"Cloudoff","x":71.1,"y":1.3},{"p":"e","s":"Cloudoff","x":76.3,"y":1.25},{"p":"e","s":"Cloudoff","x":85.5,"y":1.6},{"p":"e","s":"Cloudoff","x":91.8,"y":1.5},{"p":"e","s":"Cloudoff","x":96.8,"y":1.12},{"p":"e","s":"Cloudoff","x":102,"y":1.0},{"p":"e","s":"Cloudoff","x":108.6,"y":0.73},{"p":"e","s":"Cloudoff","x":118.6,"y":0.49},{"p":"e","s":"Cloudoff","x":135.5,"y":0.24},{"p":"e","s":"Cloudoff","x":154.5,"y":0.12},{"p":"e","s":"Cloudoff","x":176.5,"y":0.09},{"p":"e","s":"Cloudoff","x":201.5,"y":0.06},{"p":"e","s":"Cloudoff","x":230,"y":0.09},{"p":"e","s":"Cloudoff","x":262,"y":0.11},{"p":"e","s":"Cloudoff","x":300,"y":0.14},{"p":"e","s":"Cloudoff","x":342,"y":0.15},{"p":"e","s":"Cloudoff","x":374,"y":0.29},{"p":"e","s":"Cloudoff","x":408,"y":0.32},{"p":"e","s":"Cloudoff","x":446,"y":0.34},{"p":"e","s":"Cloudoff","x":487,"y":0.32},{"p":"e","s":"Cloudoff","x":509,"y":0.44},{"p":"e","s":"Cloudoff","x":566,"y":0.39},{"p":"e","s":"Cloudoff","x":635,"y":0.44},{"p":"e","s":"Cloudoff","x":725,"y":0.44},{"p":"e","s":"Cloudoff","x":792,"y":0.49},{"p":"e","s":"Cloudoff","x":865,"y":0.66},{"p":"e","s":"Cloudoff","x":1032,"y":0.66},{"p":"e","s":"Cloudoff","x":1233,"y":0.66},{"p":"e","s":"Cloudoff","x":1469,"y":0.69},{"p":"e","s":"Cloudoff","x":1833,"y":0.75},{"p":"e","s":"Cloudoff","x":2286,"y":0.8},{"p":"e","s":"Cloudoff","x":2979,"y":0.88},{"p":"e","s":"Cloudoff","x":3404,"y":0.97},{"p":"e","s":"Cloudoff","x":3881,"y":1.07},{"p":"e","s":"Cloudoff","x":4634,"y":1.22},{"p":"e","s":"Cloudoff","x":5287,"y":1.44},{"p":"e","s":"Cloudoff","x":6040,"y":1.7},{"p":"e","s":"Cloudoff","x":6592,"y":2.0},{"p":"e","s":"Cloudoff","x":7211,"y":2.43},{"p":"e","s":"Cloudoff","x":7870,"y":2.82},{"p":"e","s":"Cloudoff","x":8590,"y":3.14},{"p":"e","s":"Cloudoff","x":9395,"y":3.13},{"p":"e","s":"Cloudoff","x":10000,"y":3.12},
{"p":"e","s":"woDissolution","x":10,"y":0.5},{"p":"e","s":"woDissolution","x":11.2,"y":0.56},{"p":"e","s":"woDissolution","x":12.6,"y":0.58},{"p":"e","s":"woDissolution","x":14.1,"y":0.58},{"p":"e","s":"woDissolution","x":15.8,"y":0.59},{"p":"e","s":"woDissolution","x":17.8,"y":0.61},{"p":"e","s":"woDissolution","x":20,"y":0.63},{"p":"e","s":"woDissolution","x":22.4,"y":0.68},{"p":"e","s":"woDissolution","x":25.1,"y":0.74},{"p":"e","s":"woDissolution","x":28.2,"y":0.83},{"p":"e","s":"woDissolution","x":31.6,"y":0.9},{"p":"e","s":"woDissolution","x":35.5,"y":0.98},{"p":"e","s":"woDissolution","x":39.8,"y":1.08},{"p":"e","s":"woDissolution","x":44.7,"y":1.19},{"p":"e","s":"woDissolution","x":50.1,"y":1.34},{"p":"e","s":"woDissolution","x":56.2,"y":1.51},{"p":"e","s":"woDissolution","x":63.1,"y":1.7},{"p":"e","s":"woDissolution","x":71.1,"y":2.02},{"p":"e","s":"woDissolution","x":76.3,"y":2.36},{"p":"e","s":"woDissolution","x":79.7,"y":2.68},{"p":"e","s":"woDissolution","x":84,"y":3.21},{"p":"e","s":"woDissolution","x":87.1,"y":3.55},{"p":"e","s":"woDissolution","x":95.1,"y":3.55},{"p":"e","s":"woDissolution","x":100.2,"y":3.16},{"p":"e","s":"woDissolution","x":112.5,"y":2.63},{"p":"e","s":"woDissolution","x":126.2,"y":2.19},{"p":"e","s":"woDissolution","x":141.5,"y":1.75},{"p":"e","s":"woDissolution","x":158.8,"y":1.31},{"p":"e","s":"woDissolution","x":178,"y":0.88},{"p":"e","s":"woDissolution","x":192.7,"y":0.49},{"p":"e","s":"woDissolution","x":210.5,"y":0.34},{"p":"e","s":"woDissolution","x":240.5,"y":0.24},{"p":"e","s":"woDissolution","x":274.3,"y":0.19},{"p":"e","s":"woDissolution","x":313.4,"y":0.16},{"p":"e","s":"woDissolution","x":342,"y":0.17},{"p":"e","s":"woDissolution","x":374,"y":0.16},{"p":"e","s":"woDissolution","x":408,"y":0.23},{"p":"e","s":"woDissolution","x":446,"y":0.29},{"p":"e","s":"woDissolution","x":500,"y":0.39},{"p":"e","s":"woDissolution","x":532,"y":0.61},{"p":"e","s":"woDissolution","x":566,"y":0.49},{"p":"e","s":"woDissolution","x":635,"y":0.63},{"p":"e","s":"woDissolution","x":725,"y":0.68},{"p":"e","s":"woDissolution","x":792,"y":0.64},{"p":"e","s":"woDissolution","x":865,"y":0.78},{"p":"e","s":"woDissolution","x":1032,"y":0.84},{"p":"e","s":"woDissolution","x":1233,"y":0.78},{"p":"e","s":"woDissolution","x":1469,"y":0.63},{"p":"e","s":"woDissolution","x":1833,"y":0.49},{"p":"e","s":"woDissolution","x":2286,"y":0.37},{"p":"e","s":"woDissolution","x":2979,"y":0.27},{"p":"e","s":"woDissolution","x":3881,"y":0.19},{"p":"e","s":"woDissolution","x":5058,"y":0.15},{"p":"e","s":"woDissolution","x":6592,"y":0.12},{"p":"e","s":"woDissolution","x":7535,"y":0.11},{"p":"e","s":"woDissolution","x":8227,"y":0.15},{"p":"e","s":"woDissolution","x":8990,"y":0.22},{"p":"e","s":"woDissolution","x":10000,"y":0.3}
]},
"columns":3,
"spacing":{"row":79,"column":66},
"bounds":"flush",
"resolve":{"scale":{"x":"independent","y":"independent","color":"shared","strokeDash":"shared"}},
"concat":[
{"width":261.5,"height":263,"title":{"text":"MSA","fontWeight":"normal","offset":-10.5},
 "layer":[
  {"transform":[{"filter":"datum.p=='a'"}],"mark":{"type":"line","strokeWidth":2,"clip":true},
   "encoding":{
    "x":{"field":"x","type":"quantitative","scale":{"type":"log","domain":[10,10000],"nice":false},"axis":{"values":[10,20,30,40,50,60,70,80,90,100,200,300,400,500,600,700,800,900,1000,2000,3000,4000,5000,6000,7000,8000,9000,10000],"labels":false,"title":null,"gridOpacity":{"condition":{"test":"indexof([10,100,1000,10000], datum.value) >= 0","value":1},"value":0},"tickSize":{"condition":{"test":"indexof([10,100,1000,10000], datum.value) >= 0","value":5},"value":2.5}}},
    "y":{"field":"y","type":"quantitative","scale":{"domain":[0,2.5],"nice":false,"zero":false},"axis":{"values":[0,0.5,1,1.5,2,2.5],"format":".1f","title":"Relative fractional contribution to PM"}},
    "color":{"field":"s","type":"nominal","scale":{"domain":["BaseCase","Cloudoff","woDissolution","ClGreen","ClTan","ClBrown"],"range":["#000000","#cd5c5c","#1e90ff","#008000","#deb887","#a0522d"]},"legend":{"values":["BaseCase","Cloudoff","woDissolution"],"title":null,"orient":"none","legendX":724.5,"legendY":443}},
    "strokeDash":{"field":"s","type":"nominal","scale":{"domain":["BaseCase","Cloudoff","woDissolution","ClGreen","ClTan","ClBrown"],"range":[[7,3.5],[1,0],[1,0],[1,0],[1,0],[1,0]]},"legend":{"values":["BaseCase","Cloudoff","woDissolution"],"title":null,"orient":"none","legendX":724.5,"legendY":443}}
   }},
  {"data":{"values":[{"lab":"(a)"}]},"mark":{"type":"text","fontWeight":"bold","fontSize":10,"baseline":"bottom","yOffset":-4,"color":"#222","clip":false},
   "encoding":{
    "x":{"datum":3950,"type":"quantitative","axis":{"values":[10,20,30,40,50,60,70,80,90,100,200,300,400,500,600,700,800,900,1000,2000,3000,4000,5000,6000,7000,8000,9000,10000],"labels":false,"title":null,"gridOpacity":{"condition":{"test":"indexof([10,100,1000,10000], datum.value) >= 0","value":1},"value":0},"tickSize":{"condition":{"test":"indexof([10,100,1000,10000], datum.value) >= 0","value":5},"value":2.5}}},
    "y":{"datum":2.5,"type":"quantitative","axis":{"values":[0,0.5,1,1.5,2,2.5],"format":".1f","title":"Relative fractional contribution to PM"}},
    "text":{"field":"lab","type":"nominal"}}}
 ]},
{"width":261.5,"height":263,"title":{"text":"SO₄²⁻","fontStyle":"italic","fontWeight":"normal","offset":-10.5},
 "layer":[
  {"transform":[{"filter":"datum.p=='b'"}],"mark":{"type":"line","strokeWidth":2,"clip":true},
   "encoding":{
    "x":{"field":"x","type":"quantitative","scale":{"type":"log","domain":[10,10000],"nice":false},"axis":{"values":[10,20,30,40,50,60,70,80,90,100,200,300,400,500,600,700,800,900,1000,2000,3000,4000,5000,6000,7000,8000,9000,10000],"labels":false,"title":null,"gridOpacity":{"condition":{"test":"indexof([10,100,1000,10000], datum.value) >= 0","value":1},"value":0},"tickSize":{"condition":{"test":"indexof([10,100,1000,10000], datum.value) >= 0","value":5},"value":2.5}}},
    "y":{"field":"y","type":"quantitative","scale":{"domain":[-0.13,3.75],"nice":false,"zero":false},"axis":{"values":[0,0.5,1,1.5,2,2.5,3,3.5],"format":".1f","title":null}},
    "color":{"field":"s","type":"nominal","scale":{"domain":["BaseCase","Cloudoff","woDissolution","ClGreen","ClTan","ClBrown"],"range":["#000000","#cd5c5c","#1e90ff","#008000","#deb887","#a0522d"]},"legend":{"values":["BaseCase","Cloudoff","woDissolution"],"title":null,"orient":"none","legendX":724.5,"legendY":443}},
    "strokeDash":{"field":"s","type":"nominal","scale":{"domain":["BaseCase","Cloudoff","woDissolution","ClGreen","ClTan","ClBrown"],"range":[[7,3.5],[1,0],[1,0],[1,0],[1,0],[1,0]]},"legend":{"values":["BaseCase","Cloudoff","woDissolution"],"title":null,"orient":"none","legendX":724.5,"legendY":443}}
   }},
  {"data":{"values":[{"lab":"(b)"}]},"mark":{"type":"text","fontWeight":"bold","fontSize":10,"baseline":"bottom","yOffset":-4,"color":"#222","clip":false},
   "encoding":{
    "x":{"datum":3950,"type":"quantitative","axis":{"values":[10,20,30,40,50,60,70,80,90,100,200,300,400,500,600,700,800,900,1000,2000,3000,4000,5000,6000,7000,8000,9000,10000],"labels":false,"title":null,"gridOpacity":{"condition":{"test":"indexof([10,100,1000,10000], datum.value) >= 0","value":1},"value":0},"tickSize":{"condition":{"test":"indexof([10,100,1000,10000], datum.value) >= 0","value":5},"value":2.5}}},
    "y":{"datum":3.75,"type":"quantitative","axis":{"values":[0,0.5,1,1.5,2,2.5,3,3.5],"format":".1f","title":null}},
    "text":{"field":"lab","type":"nominal"}}}
 ]},
{"width":261.5,"height":263,"title":{"text":"Cl⁻","fontStyle":"italic","fontWeight":"normal","offset":-10.5},
 "layer":[
  {"transform":[{"filter":"datum.p=='c'"}],"mark":{"type":"line","strokeWidth":2,"clip":true},
   "encoding":{
    "x":{"field":"x","type":"quantitative","scale":{"type":"log","domain":[10,10000],"nice":false},"axis":{"values":[10,20,30,40,50,60,70,80,90,100,200,300,400,500,600,700,800,900,1000,2000,3000,4000,5000,6000,7000,8000,9000,10000],"labelExpr":"datum.value == 10 ? '10¹' : datum.value == 100 ? '10²' : datum.value == 1000 ? '10³' : datum.value == 10000 ? '10⁴' : ''","labelFontSize":12.5,"title":"Dₚ (nm)","gridOpacity":{"condition":{"test":"indexof([10,100,1000,10000], datum.value) >= 0","value":1},"value":0},"tickSize":{"condition":{"test":"indexof([10,100,1000,10000], datum.value) >= 0","value":5},"value":2.5}}},
    "y":{"field":"y","type":"quantitative","scale":{"domain":[0,14],"nice":false,"zero":false},"axis":{"values":[0,2,4,6,8,10,12,14],"format":"d","title":null}},
    "color":{"field":"s","type":"nominal","scale":{"domain":["BaseCase","Cloudoff","woDissolution","ClGreen","ClTan","ClBrown"],"range":["#000000","#cd5c5c","#1e90ff","#008000","#deb887","#a0522d"]},"legend":{"values":["BaseCase","Cloudoff","woDissolution"],"title":null,"orient":"none","legendX":724.5,"legendY":443}},
    "strokeDash":{"field":"s","type":"nominal","scale":{"domain":["BaseCase","Cloudoff","woDissolution","ClGreen","ClTan","ClBrown"],"range":[[7,3.5],[1,0],[1,0],[1,0],[1,0],[1,0]]},"legend":{"values":["BaseCase","Cloudoff","woDissolution"],"title":null,"orient":"none","legendX":724.5,"legendY":443}}
   }},
  {"data":{"values":[{"lab":"(c)"}]},"mark":{"type":"text","fontWeight":"bold","fontSize":10,"baseline":"bottom","yOffset":-4,"color":"#222","clip":false},
   "encoding":{
    "x":{"datum":3950,"type":"quantitative","axis":{"values":[10,20,30,40,50,60,70,80,90,100,200,300,400,500,600,700,800,900,1000,2000,3000,4000,5000,6000,7000,8000,9000,10000],"labelExpr":"datum.value == 10 ? '10¹' : datum.value == 100 ? '10²' : datum.value == 1000 ? '10³' : datum.value == 10000 ? '10⁴' : ''","labelFontSize":12.5,"title":"Dₚ (nm)","gridOpacity":{"condition":{"test":"indexof([10,100,1000,10000], datum.value) >= 0","value":1},"value":0},"tickSize":{"condition":{"test":"indexof([10,100,1000,10000], datum.value) >= 0","value":5},"value":2.5}}},
    "y":{"datum":14,"type":"quantitative","axis":{"values":[0,2,4,6,8,10,12,14],"format":"d","title":null}},
    "text":{"field":"lab","type":"nominal"}}}
 ]},
{"width":261.5,"height":263,"title":{"text":"Na⁺","fontStyle":"italic","fontWeight":"normal","offset":-10.5},
 "layer":[
  {"transform":[{"filter":"datum.p=='d'"}],"mark":{"type":"line","strokeWidth":2,"clip":true},
   "encoding":{
    "x":{"field":"x","type":"quantitative","scale":{"type":"log","domain":[10,10000],"nice":false},"axis":{"values":[10,20,30,40,50,60,70,80,90,100,200,300,400,500,600,700,800,900,1000,2000,3000,4000,5000,6000,7000,8000,9000,10000],"labelExpr":"datum.value == 10 ? '10¹' : datum.value == 100 ? '10²' : datum.value == 1000 ? '10³' : datum.value == 10000 ? '10⁴' : ''","labelFontSize":12.5,"title":"Dₚ (nm)","gridOpacity":{"condition":{"test":"indexof([10,100,1000,10000], datum.value) >= 0","value":1},"value":0},"tickSize":{"condition":{"test":"indexof([10,100,1000,10000], datum.value) >= 0","value":5},"value":2.5}}},
    "y":{"field":"y","type":"quantitative","scale":{"domain":[0,3],"nice":false,"zero":false},"axis":{"values":[0,0.5,1,1.5,2,2.5,3],"format":".1f","title":"Relative fractional contribution to PM"}},
    "color":{"field":"s","type":"nominal","scale":{"domain":["BaseCase","Cloudoff","woDissolution","ClGreen","ClTan","ClBrown"],"range":["#000000","#cd5c5c","#1e90ff","#008000","#deb887","#a0522d"]},"legend":{"values":["BaseCase","Cloudoff","woDissolution"],"title":null,"orient":"none","legendX":724.5,"legendY":443}},
    "strokeDash":{"field":"s","type":"nominal","scale":{"domain":["BaseCase","Cloudoff","woDissolution","ClGreen","ClTan","ClBrown"],"range":[[7,3.5],[1,0],[1,0],[1,0],[1,0],[1,0]]},"legend":{"values":["BaseCase","Cloudoff","woDissolution"],"title":null,"orient":"none","legendX":724.5,"legendY":443}}
   }},
  {"data":{"values":[{"lab":"(d)"}]},"mark":{"type":"text","fontWeight":"bold","fontSize":10,"baseline":"bottom","yOffset":-4,"color":"#222","clip":false},
   "encoding":{
    "x":{"datum":3950,"type":"quantitative","axis":{"values":[10,20,30,40,50,60,70,80,90,100,200,300,400,500,600,700,800,900,1000,2000,3000,4000,5000,6000,7000,8000,9000,10000],"labelExpr":"datum.value == 10 ? '10¹' : datum.value == 100 ? '10²' : datum.value == 1000 ? '10³' : datum.value == 10000 ? '10⁴' : ''","labelFontSize":12.5,"title":"Dₚ (nm)","gridOpacity":{"condition":{"test":"indexof([10,100,1000,10000], datum.value) >= 0","value":1},"value":0},"tickSize":{"condition":{"test":"indexof([10,100,1000,10000], datum.value) >= 0","value":5},"value":2.5}}},
    "y":{"datum":3,"type":"quantitative","axis":{"values":[0,0.5,1,1.5,2,2.5,3],"format":".1f","title":"Relative fractional contribution to PM"}},
    "text":{"field":"lab","type":"nominal"}}}
 ]},
{"width":261.5,"height":263,"title":{"text":"NH₄⁺","fontStyle":"italic","fontWeight":"normal","offset":-10.5},
 "layer":[
  {"transform":[{"filter":"datum.p=='e'"}],"mark":{"type":"line","strokeWidth":2,"clip":true},
   "encoding":{
    "x":{"field":"x","type":"quantitative","scale":{"type":"log","domain":[10,10000],"nice":false},"axis":{"values":[10,20,30,40,50,60,70,80,90,100,200,300,400,500,600,700,800,900,1000,2000,3000,4000,5000,6000,7000,8000,9000,10000],"labelExpr":"datum.value == 10 ? '10¹' : datum.value == 100 ? '10²' : datum.value == 1000 ? '10³' : datum.value == 10000 ? '10⁴' : ''","labelFontSize":12.5,"title":"Dₚ (nm)","gridOpacity":{"condition":{"test":"indexof([10,100,1000,10000], datum.value) >= 0","value":1},"value":0},"tickSize":{"condition":{"test":"indexof([10,100,1000,10000], datum.value) >= 0","value":5},"value":2.5}}},
    "y":{"field":"y","type":"quantitative","scale":{"domain":[-0.11,3.74],"nice":false,"zero":false},"axis":{"values":[0,0.5,1,1.5,2,2.5,3,3.5],"format":".1f","title":null}},
    "color":{"field":"s","type":"nominal","scale":{"domain":["BaseCase","Cloudoff","woDissolution","ClGreen","ClTan","ClBrown"],"range":["#000000","#cd5c5c","#1e90ff","#008000","#deb887","#a0522d"]},"legend":{"values":["BaseCase","Cloudoff","woDissolution"],"title":null,"orient":"none","legendX":724.5,"legendY":443}},
    "strokeDash":{"field":"s","type":"nominal","scale":{"domain":["BaseCase","Cloudoff","woDissolution","ClGreen","ClTan","ClBrown"],"range":[[7,3.5],[1,0],[1,0],[1,0],[1,0],[1,0]]},"legend":{"values":["BaseCase","Cloudoff","woDissolution"],"title":null,"orient":"none","legendX":724.5,"legendY":443}}
   }},
  {"data":{"values":[{"lab":"(e)"}]},"mark":{"type":"text","fontWeight":"bold","fontSize":10,"baseline":"bottom","yOffset":-4,"color":"#222","clip":false},
   "encoding":{
    "x":{"datum":3950,"type":"quantitative","axis":{"values":[10,20,30,40,50,60,70,80,90,100,200,300,400,500,600,700,800,900,1000,2000,3000,4000,5000,6000,7000,8000,9000,10000],"labelExpr":"datum.value == 10 ? '10¹' : datum.value == 100 ? '10²' : datum.value == 1000 ? '10³' : datum.value == 10000 ? '10⁴' : ''","labelFontSize":12.5,"title":"Dₚ (nm)","gridOpacity":{"condition":{"test":"indexof([10,100,1000,10000], datum.value) >= 0","value":1},"value":0},"tickSize":{"condition":{"test":"indexof([10,100,1000,10000], datum.value) >= 0","value":5},"value":2.5}}},
    "y":{"datum":3.74,"type":"quantitative","axis":{"values":[0,0.5,1,1.5,2,2.5,3,3.5],"format":".1f","title":null}},
    "text":{"field":"lab","type":"nominal"}}}
 ]}
]
}
